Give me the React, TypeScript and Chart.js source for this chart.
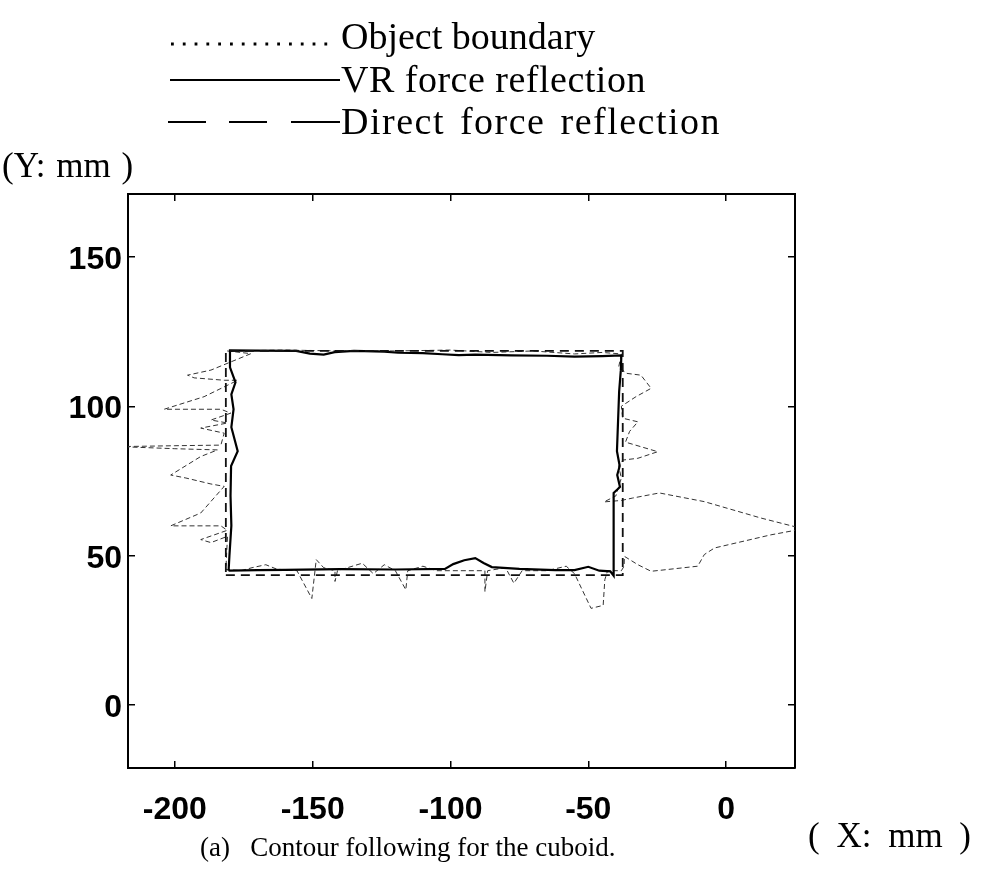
import { useEffect, useRef } from "react";
import { Chart, registerables } from "chart.js";

Chart.register(...registerables);

// ---- axis settings ----
const xTickValues = [-200, -150, -100, -50, 0];
const yTickValues = [0, 50, 100, 150];
const xMin = -217;
const xMax = 25;
const yMin = -21;
const yMax = 171;

// ---- series names ----
const seriesNames = ["Object boundary", "VR force reflection", "Direct force reflection"];

// ---- Object boundary (cuboid outline) ----
const boundaryX = [-181.5, -37.5, -37.5, -181.5, -181.5];
const boundaryY = [43.5, 43.5, 118.5, 118.5, 43.5];

// ---- VR force reflection trajectory ----
const vrX = [
  -180.5, -170, -160, -140, -120, -102, -99, -95, -91, -88, -85, -75, -62, -55, -50, -46, -42,
  -40.8, -40.8, -40.8, -38.5, -39.5, -38.6, -39.6, -39.2, -38.8, -38.2, -38,
  -45, -55, -65, -78, -91, -97, -103, -110, -119, -124, -135, -142, -146, -151, -156, -170, -180,
  -180, -178, -179.5, -178.7, -179.5, -177.2, -179.6, -179.8, -179.5, -180.2, -180.5,
];
const vrY = [
  45, 45.2, 45.3, 45.5, 45.4, 45.6, 47.2, 48.5, 49.2, 47.6, 46.2, 45.6, 45.2, 45.2, 46.3, 45, 44.8,
  43.3, 60, 71, 73, 77, 80, 85, 95, 105, 112, 117,
  116.8, 116.6, 116.9, 117, 117.3, 117.1, 117.4, 117.8, 117.9, 118.3, 118.5, 118.1, 117.3, 117.6, 118.5, 118.6, 118.7,
  113, 108, 104, 99, 93, 85, 80, 70, 60, 50, 45,
];

// ---- Direct force reflection trajectory ----
const directX = [
  -181, -172.4, -186.9, -195.4, -193, -182.1, -177.2, -189.4, -203.9, -183.3, -179.7, -186.9,
  -180.9, -190.6, -182.1, -183.3, -200, -220, -200, -184.5, -190.6, -201.5, -196, -186.9, -182.1,
  -190.6, -201.5, -183.3, -181, -190.6, -186.9, -180.9, -181.5,
  -176, -172, -167, -163, -155.7, -150.3, -148.7, -146, -141.9, -141.9, -141, -132, -128, -124,
  -120, -116.2, -115.5, -110, -105, -98, -87.5, -87.5, -86.5, -80, -77, -74, -65, -58, -55, -49,
  -44.6, -44, -43, -38,
  -37, -36.9, -32, -27.2, -10.3, -7.9, -4.2, 16.3, 28, 12.7, -7.9, -24.2, -33.9, -38, -44.3, -40,
  -38, -39, -37.5, -32, -24.8, -36.5, -35, -32, -37.5, -38, -32.7, -27.2, -30.9, -36, -39, -38,
  -45, -55, -70, -85, -100, -120, -140, -160, -181,
];
const directY = [
  118.5, 117.6, 112.1, 110.4, 109.5, 108.7, 108.7, 103.2, 99, 99, 97.7, 95.4,
  94.4, 92.7, 91, 87, 86.8, 86.5, 85.8, 85.4, 83.2, 77, 76, 74, 73.2,
  64.3, 60, 60, 58.5, 55.4, 54.4, 56.5, 45.4,
  45, 46, 47, 45.5, 45, 35.7, 48.7, 46, 45, 41.4, 45, 47.5, 44, 47,
  45, 38.6, 45, 46.5, 45, 45, 45, 38, 45, 46, 40.8, 45, 45, 46.5, 44, 32.4,
  33.4, 42, 45, 45,
  46.5, 49.8, 47, 44.8, 46.5, 50.4, 52.6, 57, 59, 62.6, 68.1, 71, 69.3, 68.5, 68, 70,
  76, 80, 82, 82.6, 84.8, 88, 91.6, 94.8, 96, 100, 103.2, 106, 110.4, 111, 113, 117.5,
  118, 117.5, 118.5, 118, 118.8, 118.5, 118.5, 118.8, 118.5,
];

const toPoints = (xs: number[], ys: number[]) => xs.map((x, i) => ({ x, y: ys[i] }));

const tickFont = {
  family: "'Liberation Sans', Arial, sans-serif",
  size: 32,
  weight: "bold" as const,
};
const serif = "'Liberation Serif', 'Times New Roman', serif";

export default function App() {
  const canvasRef = useRef<HTMLCanvasElement | null>(null);

  useEffect(() => {
    if (!canvasRef.current) return;
    const setTicks = (vals: number[]) => (scale: any) => {
      scale.ticks = vals.map((v) => ({ value: v }));
    };
    const gridCommon = { drawOnChartArea: false, tickLength: -7, color: "#000", lineWidth: 1.5 };
    const borderCommon = { display: true, color: "#000", width: 2 };
    const chart = new Chart(canvasRef.current, {
      type: "scatter",
      data: {
        datasets: [
          {
            label: seriesNames[0],
            data: toPoints(boundaryX, boundaryY),
            showLine: true,
            borderColor: "#111",
            borderWidth: 1.8,
            borderDash: [9, 6],
            pointRadius: 0,
            fill: false,
          },
          {
            label: seriesNames[1],
            data: toPoints(vrX, vrY),
            showLine: true,
            borderColor: "#000",
            borderWidth: 2.2,
            pointRadius: 0,
            fill: false,
          },
          {
            label: seriesNames[2],
            data: toPoints(directX, directY),
            showLine: true,
            borderColor: "#333",
            borderWidth: 1,
            borderDash: [5, 3],
            pointRadius: 0,
            fill: false,
          },
        ],
      },
      options: {
        responsive: false,
        maintainAspectRatio: false,
        animation: false,
        layout: { padding: { left: 68, top: 194, right: 187, bottom: 56 } },
        plugins: { legend: { display: false }, tooltip: { enabled: false } },
        scales: {
          x: {
            type: "linear",
            position: "bottom",
            min: xMin,
            max: xMax,
            afterBuildTicks: setTicks(xTickValues),
            afterFit: (s: any) => {
              s.height = 60;
            },
            grid: gridCommon,
            border: borderCommon,
            ticks: { color: "#000", font: tickFont, padding: 30, maxRotation: 0 },
          },
          x2: {
            type: "linear",
            position: "top",
            min: xMin,
            max: xMax,
            afterBuildTicks: setTicks(xTickValues),
            afterFit: (s: any) => {
              s.height = 0;
            },
            grid: gridCommon,
            border: borderCommon,
            ticks: { display: false },
          },
          y: {
            type: "linear",
            position: "left",
            min: yMin,
            max: yMax,
            afterBuildTicks: setTicks(yTickValues),
            afterFit: (s: any) => {
              s.width = 60;
            },
            grid: gridCommon,
            border: borderCommon,
            ticks: { color: "#000", font: tickFont, padding: 13, labelOffset: 3 },
          },
          y2: {
            type: "linear",
            position: "right",
            min: yMin,
            max: yMax,
            afterBuildTicks: setTicks(yTickValues),
            afterFit: (s: any) => {
              s.width = 0;
            },
            grid: gridCommon,
            border: borderCommon,
            ticks: { display: false },
          },
        },
      },
    });
    return () => chart.destroy();
  }, []);

  const textStyle = (left: number, top: number, size: number, extra: React.CSSProperties = {}): React.CSSProperties => ({
    position: "absolute",
    left,
    top,
    fontFamily: serif,
    fontSize: size,
    lineHeight: `${size}px`,
    color: "#000",
    whiteSpace: "pre",
    ...extra,
  });

  return (
    <div style={{ position: "absolute", left: 0, top: 0, width: 982, height: 884, background: "#fff", overflow: "hidden" }}>
      <canvas ref={canvasRef} width={982} height={884} style={{ position: "absolute", left: 0, top: 0, width: 982, height: 884 }} />
      {/* legend */}
      <svg width={982} height={140} style={{ position: "absolute", left: 0, top: 0 }}>
        <line x1={171} y1={44} x2={336} y2={44} stroke="#000" strokeWidth={2.8} strokeDasharray="2.8 9" />
        <line x1={170} y1={80} x2={340} y2={80} stroke="#000" strokeWidth={2} />
        <line x1={168} y1={122} x2={340} y2={122} stroke="#000" strokeWidth={2} strokeDasharray="38 23 38 24 60" />
      </svg>
      <div style={textStyle(341, 17, 38)}>{seriesNames[0]}</div>
      <div style={textStyle(341, 60, 38, { letterSpacing: 0.5 })}>{seriesNames[1]}</div>
      <div style={textStyle(341, 102, 38, { letterSpacing: 1.5, wordSpacing: 4 })}>{seriesNames[2]}</div>
      <div style={textStyle(2, 148, 35, { wordSpacing: 2 })}>{"(Y: mm )"}</div>
      <div style={textStyle(808, 818, 35, { wordSpacing: 8 })}>{"( X: mm )"}</div>
      <div style={textStyle(200, 834, 27)}>{"(a)   Contour following for the cuboid."}</div>
    </div>
  );
}
